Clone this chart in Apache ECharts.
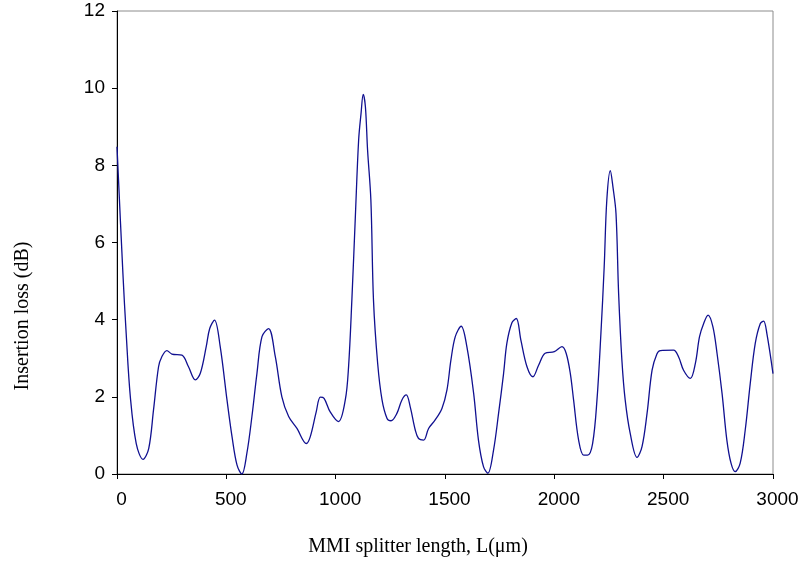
<!DOCTYPE html>
<html>
<head>
<meta charset="utf-8">
<script src="https://cdn.jsdelivr.net/npm/echarts@6/dist/echarts.min.js"></script>
<style>
  html, body { margin: 0; padding: 0; background: #fff; }
  #chart { width: 807px; height: 565px; }
</style>
</head>
<body>
<div id="chart"></div>
<script>
// MMI splitter length (µm)
const lengths = [
  0, 27, 42, 61, 88, 119, 145, 167, 190, 205, 228, 251, 297, 327, 358, 381, 408, 424, 446,
  472, 503, 526, 549, 571, 594, 617, 640, 663, 693, 724, 754, 785, 823, 866, 884, 911, 930,
  947, 975, 1013, 1044, 1059, 1074, 1090, 1105, 1116, 1126, 1136, 1146, 1161, 1173, 1192,
  1212, 1235, 1253, 1280, 1303, 1323, 1341, 1364, 1379, 1402, 1425, 1455, 1486, 1509, 1527,
  1547, 1574, 1600, 1631, 1653, 1676, 1696, 1722, 1745, 1768, 1783, 1806, 1826, 1847, 1875,
  1902, 1928, 1958, 2000, 2035, 2054, 2073, 2088, 2111, 2134, 2152, 2175, 2195, 2213, 2228,
  2240, 2256, 2268, 2282, 2294, 2309, 2324, 2347, 2378, 2401, 2424, 2447, 2469, 2485, 2545,
  2568, 2591, 2622, 2645, 2664, 2683, 2703, 2725, 2744, 2767, 2789, 2808, 2827, 2850, 2873,
  2896, 2919, 2942, 2957, 2972, 3000
];
// Insertion loss (dB)
const lossDb = [
  8.48, 5.2, 3.64, 2.0, 0.79, 0.38, 0.66, 1.66, 2.78, 3.04, 3.2, 3.11, 3.08, 2.78, 2.44, 2.61, 3.3, 3.77, 3.99,
  3.3, 1.92, 0.97, 0.23, 0.0, 0.54, 1.49, 2.61, 3.56, 3.77, 3.04, 2.0, 1.49, 1.18, 0.79, 0.97, 1.61, 1.99,
  1.96, 1.61, 1.36, 1.92, 2.78, 4.5, 6.67, 8.65, 9.34, 9.84, 9.52, 8.39, 7.1, 4.5, 2.87,
  1.92, 1.44, 1.38, 1.57, 1.92, 2.05, 1.74, 1.14, 0.92, 0.88, 1.18, 1.4, 1.7, 2.18, 2.95,
  3.56, 3.83, 3.3, 2.09, 0.88, 0.19, 0.02, 0.62, 1.57, 2.61, 3.39, 3.92, 4.03, 3.47, 2.78,
  2.52, 2.82, 3.13, 3.17, 3.3, 3.13, 2.61, 1.92, 0.88, 0.49, 0.49, 0.79, 1.92, 3.64, 5.37,
  7.1, 7.86, 7.44, 6.75, 4.68, 2.95, 1.92, 1.05, 0.43, 0.71, 1.57, 2.69, 3.11, 3.2, 3.21,
  3.04, 2.69, 2.48, 2.87, 3.56, 3.9, 4.12, 3.82, 3.13, 2.09, 0.88, 0.28, 0.06, 0.28, 1.14,
  2.35, 3.39, 3.9, 3.96, 3.64, 2.6
];

const xTicks = [0, 500, 1000, 1500, 2000, 2500, 3000];
const yTicks = [0, 2, 4, 6, 8, 10, 12];
const xTitle = 'MMI splitter length, L(\u03bcm)';
const yTitle = 'Insertion loss (dB)';

const points = lengths.map((x, i) => [x, lossDb[i]]);

const chart = echarts.init(document.getElementById('chart'), null, { renderer: 'canvas' });
chart.setOption({
  backgroundColor: '#ffffff',
  animation: false,
  grid: {
    left: 117, right: 34, top: 11, bottom: 91,
    show: true, borderColor: '#8c8c8c', borderWidth: 1, backgroundColor: 'transparent'
  },
  xAxis: {
    type: 'value',
    min: xTicks[0], max: xTicks[xTicks.length - 1], interval: 500,
    axisLine: { show: true, onZero: false, lineStyle: { color: '#000', width: 1 } },
    axisTick: { show: true, inside: false, length: 5, lineStyle: { color: '#000' } },
    axisLabel: {
      fontFamily: 'Liberation Sans', fontSize: 19, color: '#000', margin: 16,
      padding: [0, 0, 0, 9],
      formatter: v => String(v)
    },
    splitLine: { show: false }
  },
  yAxis: {
    type: 'value',
    min: yTicks[0], max: yTicks[yTicks.length - 1], interval: 2,
    axisLine: { show: true, onZero: false, lineStyle: { color: '#000', width: 1 } },
    axisTick: { show: true, inside: false, length: 5, lineStyle: { color: '#000' } },
    axisLabel: { fontFamily: 'Liberation Sans', fontSize: 19, color: '#000', margin: 12 },
    splitLine: { show: false }
  },
  graphic: [
    {
      type: 'text',
      position: [418, 547],
      style: {
        text: xTitle, x: 0, y: 0, align: 'center', verticalAlign: 'middle',
        font: '20px "Liberation Serif"', fill: '#000'
      }
    },
    {
      type: 'text',
      position: [23, 316], rotation: Math.PI / 2,
      style: {
        text: yTitle, x: 0, y: 0, align: 'center', verticalAlign: 'middle',
        font: '20px "Liberation Serif"', fill: '#000'
      }
    }
  ],
  series: [{
    type: 'line',
    data: points,
    showSymbol: false,
    smooth: 0.35,
    lineStyle: { color: '#101090', width: 1.3 },
    clip: true
  }]
});
</script>
</body>
</html>
